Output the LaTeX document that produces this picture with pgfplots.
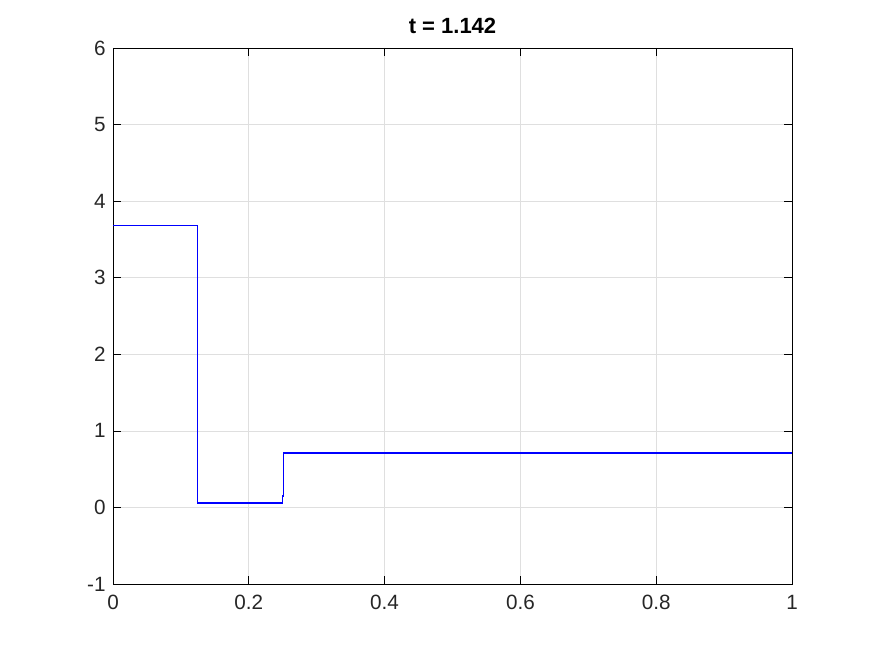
\documentclass[border=0pt]{standalone}
\usepackage{fontspec}
\setmainfont{Liberation Sans}
\usepackage{pgfplots}
\pgfplotsset{compat=1.18}

\begin{document}
\begin{tikzpicture}
  \useasboundingbox (0,0) rectangle (656.25pt,492pt);
  \begin{axis}[
      at={(84.75pt,54pt)}, anchor=south west,
      scale only axis,
      width=509.25pt, height=402pt,
      xmin=0, xmax=1, ymin=-1, ymax=6,
      xtick={0,0.2,0.4,0.6,0.8,1},
      ytick={-1,0,...,6},
      xticklabels={0,0.2,0.4,0.6,0.8,1},
      grid=major,
      grid style={gray!25, line width=0.5pt},
      axis line style={black, line width=0.6pt},
      tick align=inside,
      major tick length=6pt,
      tick style={black, line width=0.5pt},
      tick label style={font=\fontsize{15.5}{18}\selectfont, text=black!85},
      /pgf/number format/assume math mode=true,
      yticklabel style={xshift=-2pt},
      xticklabel style={yshift=-5pt},
      title={\bfseries t = 1.142},
      title style={font=\fontsize{16.5}{19}\selectfont\bfseries, yshift=1pt},
    ]
    \addplot[blue, line width=0.9pt] coordinates {
        (0,3.68) (0.125,3.68) (0.125,0.057) (0.2495,0.057) (0.2495,0.15)
        (0.2515,0.15) (0.2515,0.71) (1,0.71)
      };
  \end{axis}
\end{tikzpicture}
\end{document}
